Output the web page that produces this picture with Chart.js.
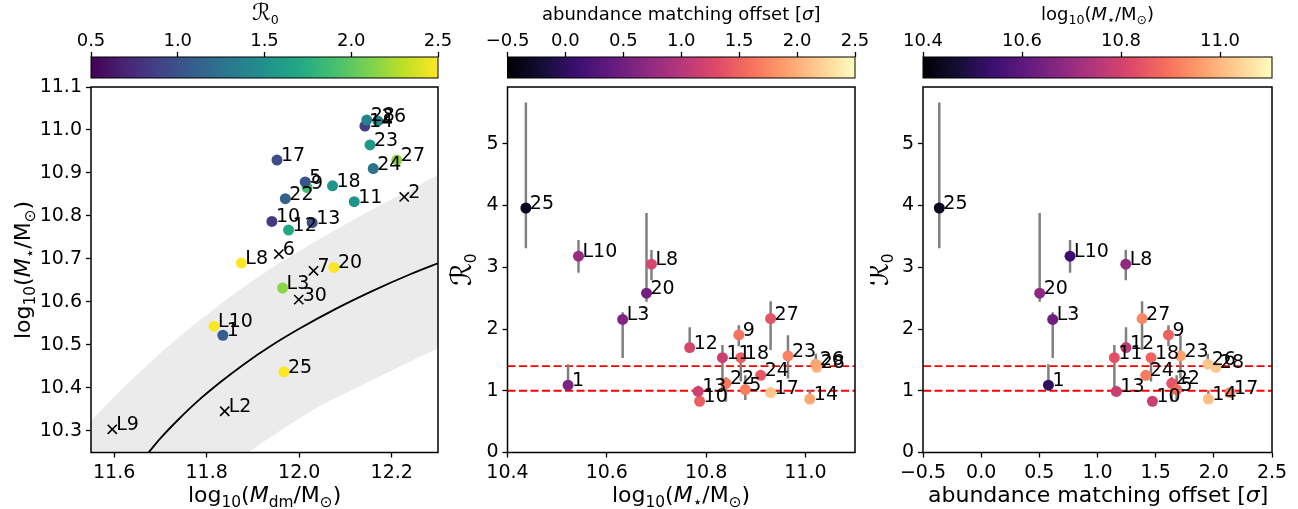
<!DOCTYPE html>
<html><head><meta charset="utf-8">
<script src="https://cdn.jsdelivr.net/npm/chart.js@4.4.1/dist/chart.umd.min.js"></script>
<style>
html,body{margin:0;padding:0;background:#fff;}
body{width:1298px;height:509px;position:relative;overflow:hidden;}
canvas{position:absolute;}
</style></head><body>
<script>
// ---------------- DATA ----------------
const names    = ['25','L10','1','L3','20','L8','12','10','13','11','22','9','5','18','24','17','27','23','14','28','26'];
const logMdm   = [11.967,11.816,11.835,11.964,12.075,11.875,11.977,11.941,12.028,12.119,11.970,12.017,12.013,12.072,12.160,11.952,12.211,12.153,12.142,12.146,12.170];
const logMstar = [10.437,10.543,10.522,10.632,10.680,10.690,10.767,10.787,10.784,10.833,10.840,10.866,10.879,10.870,10.910,10.930,10.930,10.965,11.009,11.023,11.021];
const R0       = [3.96,3.18,1.09,2.155,2.58,3.05,1.70,0.83,0.99,1.535,1.12,1.905,1.02,1.535,1.25,0.97,2.17,1.565,0.865,1.38,1.43];
const R0lo     = [3.31,2.91,1.05,1.53,2.44,2.79,1.65,0.80,0.93,1.05,0.82,1.72,0.85,1.15,1.20,0.93,1.66,1.20,0.84,1.33,1.40];
const R0hi     = [5.67,3.44,1.43,2.27,3.88,3.28,2.03,0.90,1.08,1.74,1.22,2.06,1.25,1.60,1.30,1.01,2.45,1.90,1.01,1.45,1.60];
const amOffset = [-0.36,0.764,0.578,0.615,0.503,1.243,1.245,1.472,1.162,1.145,1.638,1.61,1.68,1.46,1.415,2.14,1.383,1.713,1.953,2.017,1.948];

const crossNames = ['2','6','7','30','L2','L9'];
const crossMdm   = [12.227,11.956,12.031,11.999,11.839,11.596];
const crossMstar = [10.844,10.711,10.672,10.605,10.345,10.303];

const relMdm   = [11.672,11.70,11.74,11.78,11.83,11.88,11.94,12.00,12.08,12.16,12.24,12.31];
const relMstar = [10.246,10.282,10.327,10.368,10.413,10.454,10.498,10.537,10.584,10.626,10.664,10.694];

// grey band outline: upper edge left->right, then lower edge right->left
const bandMdm   = [11.54,11.551,11.59,11.63,11.68,11.725,11.78,11.833,11.87,11.91,11.96,12.00,12.06,12.119,12.17,12.227,12.31,
                   12.31,12.25,12.20,12.15,12.113,12.07,12.04,12.00,11.96,11.92,11.887,11.85,11.54];
const bandMstar = [10.31,10.324,10.367,10.41,10.461,10.504,10.553,10.597,10.627,10.657,10.692,10.718,10.756,10.792,10.822,10.854,10.901,
                   10.497,10.466,10.44,10.414,10.394,10.372,10.355,10.328,10.300,10.272,10.247,10.21,10.21];

const refLines = [1.0, 1.4];

const p1XTicks = [11.6,11.8,12.0,12.2];
const p1YTicks = [10.3,10.4,10.5,10.6,10.7,10.8,10.9,11.0,11.1];
const p2XTicks = [10.4,10.6,10.8,11.0];
const rYTicks  = [0,1,2,3,4,5];
const p3XTicks = [-0.5,0.0,0.5,1.0,1.5,2.0,2.5];
const cb1Ticks = [0.5,1.0,1.5,2.0,2.5];
const cb2Ticks = [-0.5,0.0,0.5,1.0,1.5,2.0,2.5];
const cb3Ticks = [10.4,10.6,10.8,11.0];
const cb1Range = [0.5,2.5], cb2Range = [-0.5,2.5], cb3Range = [10.4,11.105];

// ---------------- STYLE ----------------
const FONT = 'DejaVu Sans';
const TICK_FS = 19, LABEL_FS = 22, ANN_FS = 19, CB_TICK_FS = 18, CB_LABEL_FS = 18;
const viridis = ['#440154','#482475','#414487','#355f8d','#2a788e','#21918c','#22a884','#44bf70','#7ad151','#bddf26','#fde725'];
const magma   = ['#000004','#140e36','#3b0f70','#641a80','#8c2981','#b73779','#de4968','#f7705c','#fe9f6d','#fecf92','#fcfdbf'];
function hex(h){return [parseInt(h.slice(1,3),16),parseInt(h.slice(3,5),16),parseInt(h.slice(5,7),16)];}
function cmap(stops, v, r){
  let t=(v-r[0])/(r[1]-r[0]); t=Math.max(0,Math.min(1,t));
  const p=t*(stops.length-1), i=Math.min(Math.floor(p),stops.length-2), f=p-i;
  const a=hex(stops[i]), b=hex(stops[i+1]);
  return 'rgb('+a.map((c,k)=>Math.round(c+(b[k]-c)*f)).join(',')+')';
}
const fmt1 = v => v.toFixed(1).replace('-','\u2212');
const fmt0 = v => String(Math.round(v));

Chart.defaults.font.family = FONT;
Chart.defaults.color = '#000';

const P = [
  {l:91,   r:438,  cl:0,   cw:475},
  {l:507.5,r:855,  cl:440, cw:450},
  {l:923,  r:1272, cl:870, cw:428}
];
const TOP=87, BOT=452.5, PCT=60, H=509, CB_T=57, CB_B=78, CB_H=85;

function mk(left, top, w, h){
  const c=document.createElement('canvas');
  c.width=w; c.height=h; c.style.left=left+'px'; c.style.top=top+'px';
  c.style.width=w+'px'; c.style.height=h+'px';
  document.body.appendChild(c); return c;
}

// rich text: parts [[text, style]] style bits: 1 sub, 2 italic, 4 enlarged
function drawRich(ctx, parts, cx, cy, size, rot){
  ctx.save(); ctx.translate(Math.round(cx), Math.round(cy)); if(rot) ctx.rotate(rot);
  const f = s => ((s&2)?'italic ':'') + (((s&1)?size*0.7:size)*((s&4)?1.3:1)) + 'px "' + FONT + '"';
  let w=0; const ws=[];
  for(const [t,s] of parts){ ctx.font=f(s); const m=ctx.measureText(t).width; ws.push(m); w+=m; }
  let x=Math.round(-w/2); const base=Math.round(size*0.36);
  ctx.fillStyle='#000'; ctx.textAlign='left'; ctx.textBaseline='alphabetic';
  parts.forEach(([t,s],i)=>{ ctx.font=f(s); ctx.fillText(t, x, base + ((s&1)?size*0.22:0)); x+=ws[i]; });
  ctx.restore();
}

const framePlugin = {id:'frame', afterDatasetsDraw(chart){
  const {ctx, chartArea:a}=chart; ctx.save(); ctx.strokeStyle='#000'; ctx.lineWidth=1.5;
  ctx.strokeRect(a.left, a.top, a.right-a.left, a.bottom-a.top); ctx.restore(); }};

const annPlugin = {id:'ann', afterDatasetsDraw(chart, args, opts){
  if(!opts.sets) return;
  const ctx=chart.ctx; ctx.save(); ctx.font=ANN_FS+'px "'+FONT+'"'; ctx.fillStyle='#000';
  ctx.textAlign='left'; ctx.textBaseline='alphabetic';
  for(const s of opts.sets){ const meta=chart.getDatasetMeta(s.ds);
    meta.data.forEach((el,i)=>{ ctx.fillText(s.labels[i], el.x+4, el.y+1); }); }
  ctx.restore(); }};

const titlesPlugin = {id:'titles', afterDraw(chart, args, opts){
  if(!opts.items) return;
  for(const it of opts.items) drawRich(chart.ctx, it.parts, it.x-opts.ox, it.y-opts.oy, it.size, it.rot||0);
}};

const cbarPlugin = {id:'cbar', afterDraw(chart, args, opts){
  if(!opts.stops) return;
  const {ctx, chartArea:a}=chart; ctx.save();
  const g=ctx.createLinearGradient(a.left,0,a.right,0);
  opts.stops.forEach((c,i)=>g.addColorStop(i/(opts.stops.length-1), c));
  ctx.fillStyle=g; ctx.fillRect(a.left,a.top,a.right-a.left,a.bottom-a.top);
  ctx.strokeStyle='#000'; ctx.lineWidth=1; ctx.strokeRect(a.left,a.top,a.right-a.left,a.bottom-a.top);
  ctx.restore(); }};

function axisCfg(range, ticks, fmt, fs, pad, extra){
  return Object.assign({
    type:'linear', min:range[0], max:range[1],
    afterBuildTicks: s => { s.ticks = ticks.map(v=>({value:v})); },
    ticks:{callback:fmt, font:{size:fs, family:FONT}, color:'#000', padding:pad, maxRotation:0, autoSkip:false},
    grid:{display:true, drawOnChartArea:false, drawTicks:true, tickLength:5, tickWidth:1.3, tickColor:'#000', color:'#000'},
    border:{display:false}
  }, extra);
}

function panel(p, datasets, xr, yr, xt, yt, xf, yf, annSets, titles){
  const c=mk(p.cl, PCT, p.cw, H-PCT);
  return new Chart(c, {
    type:'scatter', data:{datasets},
    options:{
      responsive:false, devicePixelRatio:1, animation:false, events:[],
      layout:{padding:{left:0, top:TOP-PCT, right:p.cl+p.cw-p.r, bottom:0}},
      scales:{
        x: axisCfg(xr, xt, xf, TICK_FS, 4, {position:'bottom', afterFit: s=>{ s.height = H-BOT; }}),
        y: axisCfg(yr, yt, yf, TICK_FS, 4, {position:'left', afterFit: s=>{ s.width = p.l-p.cl; }})
      },
      plugins:{legend:{display:false}, tooltip:{enabled:false},
        ann:{sets:annSets}, titles:{items:titles, ox:p.cl, oy:PCT}}
    },
    plugins:[framePlugin, annPlugin, titlesPlugin]
  });
}

function colorbar(p, range, ticks, fmt, stops, titleParts){
  const c=mk(p.cl, 0, p.cw, CB_H);
  return new Chart(c, {
    type:'scatter', data:{datasets:[]},
    options:{
      responsive:false, devicePixelRatio:1, animation:false, events:[],
      layout:{padding:{left:p.l-p.cl, top:0, right:p.cl+p.cw-p.r, bottom:CB_H-CB_B}},
      scales:{
        x: axisCfg(range, ticks, fmt, CB_TICK_FS, 0, {position:'top', afterFit: s=>{ s.height = CB_T; }}),
        y: {display:false, min:0, max:1}
      },
      plugins:{legend:{display:false}, tooltip:{enabled:false}, cbar:{stops},
        titles:{items:[{parts:titleParts, x:(p.l+p.r)/2, y:14, size:CB_LABEL_FS}], ox:p.cl, oy:0}}
    },
    plugins:[cbarPlugin, titlesPlugin]
  });
}

const R0Parts = [['\u211B',4],['0',1]];
const MstarParts = [['log',0],['10',1],['(',0],['M',2],['\u22C6',1],['/M',0],['\u2299',1],[')',0]];
const MdmParts = [['log',0],['10',1],['(',0],['M',2],['dm',1],['/M',0],['\u2299',1],[')',0]];
const AMParts = [['abundance matching offset [',0],['\u03C3',2],[']',0]];

// ---------------- COLORBARS ----------------
colorbar(P[0], cb1Range, cb1Ticks, fmt1, viridis, R0Parts);
colorbar(P[1], cb2Range, cb2Ticks, fmt1, magma, AMParts);
colorbar(P[2], cb3Range, cb3Ticks, fmt1, magma, MstarParts);

// ---------------- PANEL 1 ----------------
const p1Yr=[10.249,11.1], p1Xr=[11.55,12.3];
panel(P[0], [
  {type:'scatter', data:logMdm.map((x,i)=>({x, y:logMstar[i]})), pointRadius:5.5, pointBorderWidth:0,
   pointBorderColor:'rgba(0,0,0,0)', pointBackgroundColor:R0.map(v=>cmap(viridis,v,cb1Range)), order:0},
  {type:'scatter', data:crossMdm.map((x,i)=>({x, y:crossMstar[i]})), pointStyle:'crossRot', pointRadius:6.5,
   pointBorderWidth:1.6, pointBorderColor:'#000', pointBackgroundColor:'#000', order:0},
  {type:'line', data:relMdm.map((x,i)=>({x, y:relMstar[i]})), borderColor:'#000', borderWidth:1.8,
   pointRadius:0, fill:false, cubicInterpolationMode:'monotone', order:1},
  {type:'line', data:bandMdm.map((x,i)=>({x, y:bandMstar[i]})), borderColor:'rgba(0,0,0,0)', borderWidth:0,
   backgroundColor:'#ebebeb', pointRadius:0, fill:'shape', tension:0, order:5}
], p1Xr, p1Yr, p1XTicks, p1YTicks, fmt1, fmt1,
 [{ds:0, labels:names},{ds:1, labels:crossNames}],
 [{parts:MdmParts, x:264.5, y:494, size:LABEL_FS},{parts:MstarParts, x:22, y:270, size:LABEL_FS, rot:-Math.PI/2}]);

// ---------------- PANEL 2 & 3 ----------------
function errData(xs){ const d=[]; xs.forEach((x,i)=>{ d.push({x, y:R0lo[i]}, {x, y:R0hi[i]}, {x, y:null}); }); return d; }
function refSets(xr){ return refLines.map(v=>({type:'line', data:[{x:xr[0],y:v},{x:xr[1],y:v}], borderColor:'#ff0000',
  borderWidth:1.8, borderDash:[8,3.5], pointRadius:0, fill:false, order:3})); }
const rYr=[0,5.92];

const p2Xr=[10.4,11.1];
panel(P[1], [
  {type:'scatter', data:logMstar.map((x,i)=>({x, y:R0[i]})), pointRadius:5.5, pointBorderWidth:0,
   pointBorderColor:'rgba(0,0,0,0)', pointBackgroundColor:amOffset.map(v=>cmap(magma,v,cb2Range)), order:0},
  {type:'line', data:errData(logMstar), borderColor:'#808080', borderWidth:2.5, pointRadius:0, spanGaps:false, fill:false, order:2},
  ...refSets(p2Xr)
], p2Xr, rYr, p2XTicks, rYTicks, fmt1, fmt0,
 [{ds:0, labels:names}],
 [{parts:MstarParts, x:681, y:494, size:LABEL_FS},{parts:R0Parts, x:463, y:270, size:LABEL_FS, rot:-Math.PI/2}]);

const p3Xr=[-0.5,2.5];
panel(P[2], [
  {type:'scatter', data:amOffset.map((x,i)=>({x, y:R0[i]})), pointRadius:5.5, pointBorderWidth:0,
   pointBorderColor:'rgba(0,0,0,0)', pointBackgroundColor:logMstar.map(v=>cmap(magma,v,cb3Range)), order:0},
  {type:'line', data:errData(amOffset), borderColor:'#808080', borderWidth:2.5, pointRadius:0, spanGaps:false, fill:false, order:2},
  ...refSets(p3Xr)
], p3Xr, rYr, p3XTicks, rYTicks, fmt1, fmt0,
 [{ds:0, labels:names}],
 [{parts:AMParts, x:1097.5, y:494, size:LABEL_FS},{parts:R0Parts, x:880, y:270, size:LABEL_FS, rot:-Math.PI/2}]);
</script>
</body></html>
